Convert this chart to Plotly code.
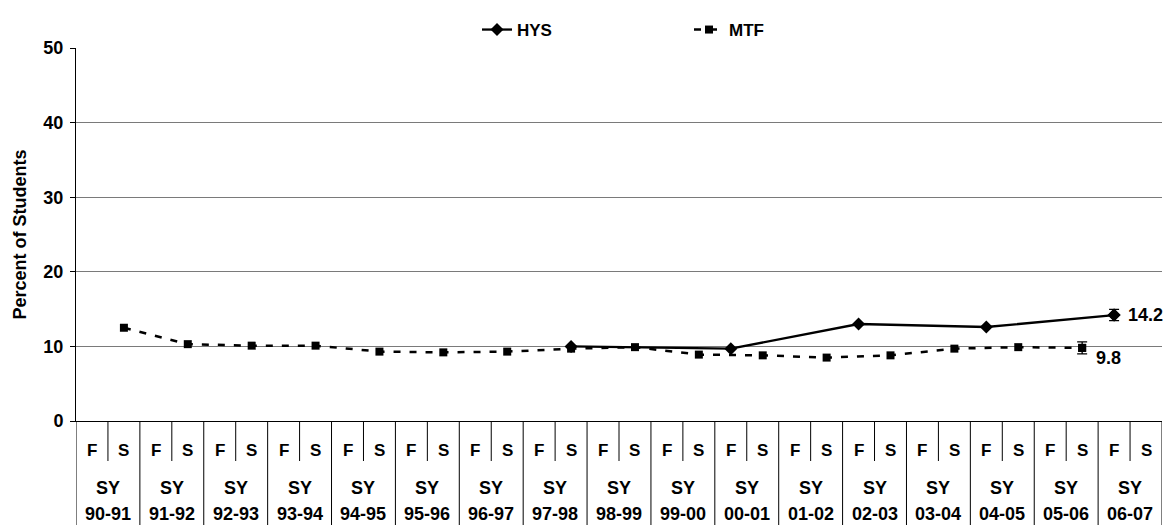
import plotly.graph_objects as go

# school years and semesters along the x axis
years = ["90-91", "91-92", "92-93", "93-94", "94-95", "95-96", "96-97", "97-98", "98-99",
         "99-00", "00-01", "01-02", "02-03", "03-04", "04-05", "05-06", "06-07"]
terms = ["F", "S"]
categories = [f"{t} {y}" for y in years for t in terms]

# HYS survey points
hys_x = ["S 97-98", "F 00-01", "F 02-03", "F 04-05", "F 06-07"]
hys_y = [10.0, 9.7, 13.0, 12.6, 14.2]
hys_err = 0.75

# MTF survey points (spring of every year up to 05-06)
mtf_x = [f"S {y}" for y in years[:16]]
mtf_y = [12.5, 10.3, 10.1, 10.1, 9.3, 9.2, 9.3, 9.7, 9.9, 8.9, 8.8, 8.5, 8.8, 9.7, 9.9, 9.8]
mtf_err = 0.8

FONT = "Arial, Liberation Sans, sans-serif"

fig = go.Figure()
fig.add_trace(go.Scatter(
    x=hys_x, y=hys_y, name="<b>HYS</b>", mode="lines+markers",
    line=dict(color="black", width=2.3),
    marker=dict(symbol="diamond", size=10, color="black"),
))
fig.add_trace(go.Scatter(
    x=mtf_x, y=mtf_y, name="<b>MTF</b>", mode="lines+markers",
    line=dict(color="black", width=2.5, dash="7px,9px"),
    marker=dict(symbol="square", size=8, color="black"),
))
# error bars on the latest values only
fig.add_trace(go.Scatter(
    x=hys_x[-1:], y=hys_y[-1:], mode="markers", showlegend=False,
    marker=dict(symbol="diamond", size=10, color="black"),
    error_y=dict(type="data", array=[hys_err], color="black", thickness=1.3, width=5),
))
fig.add_trace(go.Scatter(
    x=mtf_x[-1:], y=mtf_y[-1:], mode="markers", showlegend=False,
    marker=dict(symbol="square", size=8, color="black"),
    error_y=dict(type="data", array=[mtf_err], color="black", thickness=1.3, width=5),
))

# value labels
fig.add_annotation(x=hys_x[-1], y=hys_y[-1], text=f"<b>{hys_y[-1]:.1f}</b>", showarrow=False,
                   xanchor="left", yanchor="middle", xshift=12, font=dict(size=18, family=FONT))
fig.add_annotation(x=mtf_x[-1], y=mtf_y[-1], text=f"<b>{mtf_y[-1]:.1f}</b>", showarrow=False,
                   xanchor="left", yanchor="middle", xshift=12, yshift=-10, font=dict(size=18, family=FONT))

# table under the x axis: F/S row and school-year row
plot_h = 373.0
y_fs = -40 / plot_h
y_bottom = -106 / plot_h
for i in range(len(years)):
    fig.add_shape(type="line", xref="x", yref="paper", x0=2 * i - 0.5, x1=2 * i - 0.5,
                  y0=0, y1=y_bottom, line=dict(color="black", width=1))
    fig.add_shape(type="line", xref="x", yref="paper", x0=2 * i + 0.5, x1=2 * i + 0.5,
                  y0=0, y1=y_fs, line=dict(color="black", width=1))
    for j, t in enumerate(terms):
        fig.add_annotation(x=2 * i + j, y=-29 / plot_h, xref="x", yref="paper", text=f"<b>{t}</b>",
                           showarrow=False, yanchor="middle", font=dict(size=17, family=FONT))
    fig.add_annotation(x=2 * i + 0.5, y=-67 / plot_h, xref="x", yref="paper", text="<b>SY</b>",
                       showarrow=False, yanchor="middle", font=dict(size=18, family=FONT))
    fig.add_annotation(x=2 * i + 0.5, y=-93 / plot_h, xref="x", yref="paper", text=f"<b>{years[i]}</b>",
                       showarrow=False, yanchor="middle", font=dict(size=18, family=FONT))
fig.add_shape(type="line", xref="x", yref="paper", x0=len(categories) - 0.5, x1=len(categories) - 0.5,
              y0=0, y1=y_bottom, line=dict(color="black", width=1))

fig.update_layout(
    width=1167, height=525,
    margin=dict(l=76, r=5, t=48, b=104, autoexpand=False),
    paper_bgcolor="white", plot_bgcolor="white",
    font=dict(family=FONT, color="black"),
    showlegend=True,
    legend=dict(orientation="h", x=(487 - 76 - 10) / 1086, xanchor="left", y=1.0, yanchor="bottom",
                font=dict(size=17, family=FONT), entrywidth=167),
    xaxis=dict(type="category", categoryorder="array", categoryarray=categories,
               range=[-0.5, len(categories) - 0.5], showticklabels=False, ticks="",
               showgrid=False, showline=True, linecolor="black", linewidth=1, zeroline=False),
    yaxis=dict(range=[0, 50], dtick=10, showgrid=True, gridcolor="#7a7a7a", gridwidth=1,
               showline=True, linecolor="black", linewidth=1, ticks="outside", ticklen=5,
               tickcolor="black", tickfont=dict(size=18, family=FONT), zeroline=False,
               ticklabelstandoff=3, tickprefix="<b>", ticksuffix="</b>",
               title=dict(text="<b>Percent of Students</b>", font=dict(size=18, family=FONT), standoff=12)),
)

# drop the default page margin so the figure fills the window exactly
fig.write_html("out.html", config={"displayModeBar": False},
               post_script="document.body.style.margin='0';")
